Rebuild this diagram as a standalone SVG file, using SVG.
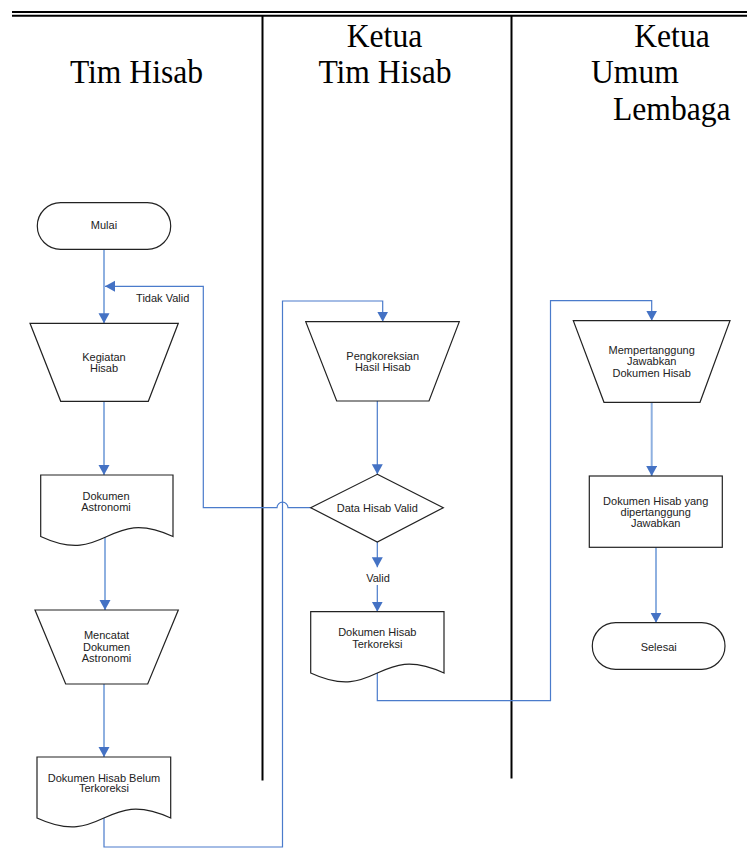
<svg xmlns="http://www.w3.org/2000/svg" width="747" height="849" viewBox="0 0 747 849">
<defs>
<style>
.hdr{font-family:"Liberation Serif","Times New Roman",serif;font-size:34px;fill:#000}
.lbl{font-family:"Liberation Sans",Arial,sans-serif;font-size:11px;fill:#222;text-anchor:middle}
.shape{fill:#fff;stroke:#222;stroke-width:1.2}
.sep{stroke:#000;stroke-width:2;fill:none}
.c1{fill:none;stroke:#8eb0e0;stroke-width:2}
.c2{fill:none;stroke:#4a7bcb;stroke-width:1.2}
</style>
<marker id="arr" markerUnits="userSpaceOnUse" markerWidth="12" markerHeight="12" refX="10" refY="5.5" orient="auto">
<path d="M0,0 L10,5.5 L0,11 Z" fill="#4472c4"/>
</marker>
</defs>
<rect width="747" height="849" fill="#fff"/>
<g id="lanes">
<line class="sep" x1="12" y1="12" x2="747" y2="12"/>
<line class="sep" x1="12" y1="15.7" x2="747" y2="15.7"/>
<line class="sep" x1="262.5" y1="16" x2="262.5" y2="780.5"/>
<line class="sep" x1="511.5" y1="16" x2="511.5" y2="778.5"/>
<text class="hdr" transform="translate(136.5,83.3) scale(0.93,1)" text-anchor="middle">Tim Hisab</text>
<text class="hdr" transform="translate(384.5,46.5) scale(0.93,1)" text-anchor="middle">Ketua</text>
<text class="hdr" transform="translate(385,83.3) scale(0.93,1)" text-anchor="middle">Tim Hisab</text>
<text class="hdr" transform="translate(672,46.5) scale(0.93,1)" text-anchor="middle">Ketua</text>
<text class="hdr" transform="translate(591,83.3) scale(0.93,1)">Umum</text>
<text class="hdr" transform="translate(613,120) scale(0.93,1)">Lembaga</text>
</g>
<g id="connectors">
<path class="c1" d="M104,249.5 V323.3" marker-end="url(#arr)"/>
<path class="c1" d="M104,401.3 V475" marker-end="url(#arr)"/>
<path class="c1" d="M105,537 V610" marker-end="url(#arr)"/>
<path class="c1" d="M104,684 V757" marker-end="url(#arr)"/>
<path class="c2" d="M104,818 V847 H282.5 V301 H382.7 V321.7" marker-end="url(#arr)"/>
<path class="c2" d="M377.3,401 V474.3" marker-end="url(#arr)"/>
<path class="c2" d="M377.3,542 V567.3" marker-end="url(#arr)"/>
<path class="c2" d="M377.3,585 V611.7" marker-end="url(#arr)"/>
<path class="c2" d="M310.7,507.7 H288 A5.5,5.5 0 0 0 277,507.7 H203.3 V286.3 H105" marker-end="url(#arr)"/>
<path class="c2" d="M377.3,673 V700.7 H550.5 V300.7 H651.7 V320.7" marker-end="url(#arr)"/>
<path class="c1" d="M651.7,402.3 V476" marker-end="url(#arr)"/>
<path class="c1" d="M656,547.3 V622.7" marker-end="url(#arr)"/>
<text class="lbl" x="162.7" y="301.5">Tidak Valid</text>
<text class="lbl" x="378" y="581.6">Valid</text>
</g>
<g id="mulai">
<rect class="shape" x="37.3" y="202.7" width="133.4" height="46.6" rx="23.3" ry="23.3"/>
<text class="lbl" x="104" y="229">Mulai</text>
</g>
<g id="kegiatan-hisab">
<path class="shape" d="M30,323.3 H178.3 L148.3,401.3 H60.7 Z"/>
<text class="lbl" x="104" y="360.6">Kegiatan</text>
<text class="lbl" x="104" y="371.6">Hisab</text>
</g>
<g id="dokumen-astronomi">
<path class="shape" d="M40.7,475 H173 V536.5 C106.9,505.5 106.9,567.5 40.7,536.5 Z"/>
<text class="lbl" x="106" y="499.6">Dokumen</text>
<text class="lbl" x="106" y="510.6">Astronomi</text>
</g>
<g id="mencatat">
<path class="shape" d="M35,610 H178.3 L147.7,684 H65.7 Z"/>
<text class="lbl" x="106.5" y="639">Mencatat</text>
<text class="lbl" x="106.5" y="650.5">Dokumen</text>
<text class="lbl" x="106.5" y="661.5">Astronomi</text>
</g>
<g id="dokumen-belum">
<path class="shape" d="M37,757 H170.7 V818 C103.9,787 103.9,849 37,818 Z"/>
<text class="lbl" x="104" y="781.5">Dokumen Hisab Belum</text>
<text class="lbl" x="104" y="792.3">Terkoreksi</text>
</g>
<g id="pengkoreksian">
<path class="shape" d="M305.7,321.7 H459.3 L429,401 H336.7 Z"/>
<text class="lbl" x="382.7" y="360">Pengkoreksian</text>
<text class="lbl" x="382.7" y="371">Hasil Hisab</text>
</g>
<g id="data-valid">
<path class="shape" d="M377.3,474.3 L443.3,507.7 L377.3,542 L310.7,507.7 Z"/>
<text class="lbl" x="377.3" y="511.6">Data Hisab Valid</text>
</g>
<g id="dokumen-terkoreksi">
<path class="shape" d="M310.7,611.7 H444 V673 C377.3,642 377.3,704 310.7,673 Z"/>
<text class="lbl" x="377.3" y="635.6">Dokumen Hisab</text>
<text class="lbl" x="377.3" y="647.5">Terkoreksi</text>
</g>
<g id="mempertanggung">
<path class="shape" d="M573.3,320.7 H730 L700,402.3 H604 Z"/>
<text class="lbl" x="651.7" y="354">Mempertanggung</text>
<text class="lbl" x="651.7" y="365.3">Jawabkan</text>
<text class="lbl" x="651.7" y="376.6">Dokumen Hisab</text>
</g>
<g id="dokumen-dipertanggung">
<rect class="shape" x="589.3" y="476" width="133" height="71.3"/>
<text class="lbl" x="655.7" y="505">Dokumen Hisab yang</text>
<text class="lbl" x="655.7" y="516.3">dipertanggung</text>
<text class="lbl" x="655.7" y="527.3">Jawabkan</text>
</g>
<g id="selesai">
<rect class="shape" x="592.3" y="622.7" width="132.7" height="46.6" rx="23.3" ry="23.3"/>
<text class="lbl" x="658.7" y="650.6">Selesai</text>
</g>
</svg>
